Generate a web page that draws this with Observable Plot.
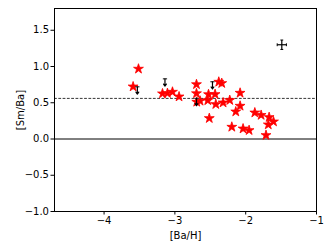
<!DOCTYPE html>
<html><head><meta charset="utf-8">
<script src="https://cdn.jsdelivr.net/npm/d3@7"></script>
<script src="https://cdn.jsdelivr.net/npm/@observablehq/plot@0.6"></script>
<style>body{margin:0;background:#fff}</style>
</head><body><div id="chart"></div>
<script>
// Measured stars: [Ba/H] and [Sm/Ba]
const starBaH = [-3.59,-3.514,-3.175,-3.105,-3.034,-2.941,-2.695,-2.695,-2.691,-2.644,-2.525,-2.432,-2.535,-2.422,-2.380,-2.338,-2.514,-2.319,-2.225,-2.079,-2.079,-2.140,-2.196,-2.037,-1.952,-1.871,-1.782,-1.669,-1.607,-1.681,-1.713];
const starSmBa = [0.722,0.967,0.626,0.631,0.649,0.584,0.753,0.628,0.511,0.525,0.615,0.617,0.532,0.479,0.787,0.769,0.286,0.501,0.535,0.635,0.456,0.377,0.166,0.142,0.120,0.363,0.329,0.300,0.239,0.198,0.052];
// Upper limits
const limBaH = [-3.53,-3.14,-2.695,-2.469];
const limSmBa = [0.72,0.83,0.56,0.79];
// Typical error bar
const errBaH = [-1.49];
const errSmBa = [1.30];
const errSize = 0.065;
// Reference lines
const refLines = [0];
const dashedRef = [0.56];
const xTicks = [-4,-3,-2,-1];
const yTicks = [-1.0,-0.5,0.0,0.5,1.0,1.5];

const stars = starBaH.map((x,i)=>({x, y: starSmBa[i]}));
const lims = limBaH.map((x,i)=>({x, y: limSmBa[i]}));
const errs = errBaH.map((x,i)=>({x, y: errSmBa[i]}));
const arrowLen = 0.1, capW = 0.03;

const chart = Plot.plot({
  width: 332, height: 249,
  marginLeft: 54, marginRight: 16, marginTop: 8, marginBottom: 38,
  style: {fontFamily: "DejaVu Sans", fontSize: "10px", color: "black", background: "white"},
  x: {domain: [-4.7, -1]},
  y: {domain: [-1.0, 1.8]},
  marks: [
    Plot.axisX({ticks: xTicks, tickSize: 3.5, tickPadding: 2, tickFormat: d3.format("d"),
      label: "[Ba/H]", labelAnchor: "center", labelArrow: "none", labelOffset: 27, fontSize: 10}),
    Plot.axisY({ticks: yTicks, tickSize: 3.5, tickPadding: 2, tickFormat: d3.format(".1f"),
      label: "[Sm/Ba]", labelAnchor: "center", labelArrow: "none", labelOffset: 38, fontSize: 10}),
    Plot.ruleY(refLines, {stroke: "black", strokeWidth: 1}),
    Plot.ruleY(dashedRef, {stroke: "black", strokeWidth: 0.8, strokeDasharray: "2.8,1.5"}),
    Plot.dot(stars, {x: "x", y: "y", symbol: "star", r: 3.1, fill: "red", stroke: "red", strokeWidth: 0.8}),
    Plot.link(lims, {x1: d=>d.x-capW, x2: d=>d.x+capW, y1: "y", y2: "y", stroke: "#333", strokeWidth: 1.2}),
    Plot.arrow(lims, {x1: "x", x2: "x", y1: "y", y2: d=>d.y-arrowLen, stroke: "black", strokeWidth: 1.2, headLength: 4, headAngle: 70}),
    Plot.link(errs, {x1: d=>d.x-errSize, x2: d=>d.x+errSize, y1: "y", y2: "y", stroke: "black", strokeWidth: 1.2}),
    Plot.link(errs, {x1: "x", x2: "x", y1: d=>d.y-errSize, y2: d=>d.y+errSize, stroke: "black", strokeWidth: 1.2}),
    Plot.link(errs, {x1: d=>d.x-errSize, x2: d=>d.x-errSize, y1: d=>d.y-0.02, y2: d=>d.y+0.02, stroke: "black", strokeWidth: 1}),
    Plot.link(errs, {x1: d=>d.x+errSize, x2: d=>d.x+errSize, y1: d=>d.y-0.02, y2: d=>d.y+0.02, stroke: "black", strokeWidth: 1}),
    Plot.link(errs, {x1: d=>d.x-0.02, x2: d=>d.x+0.02, y1: d=>d.y-errSize, y2: d=>d.y-errSize, stroke: "black", strokeWidth: 1}),
    Plot.link(errs, {x1: d=>d.x-0.02, x2: d=>d.x+0.02, y1: d=>d.y+errSize, y2: d=>d.y+errSize, stroke: "black", strokeWidth: 1}),
    Plot.frame({stroke: "black", strokeWidth: 1})
  ]
});
document.getElementById("chart").appendChild(chart);
</script>
</body></html>
